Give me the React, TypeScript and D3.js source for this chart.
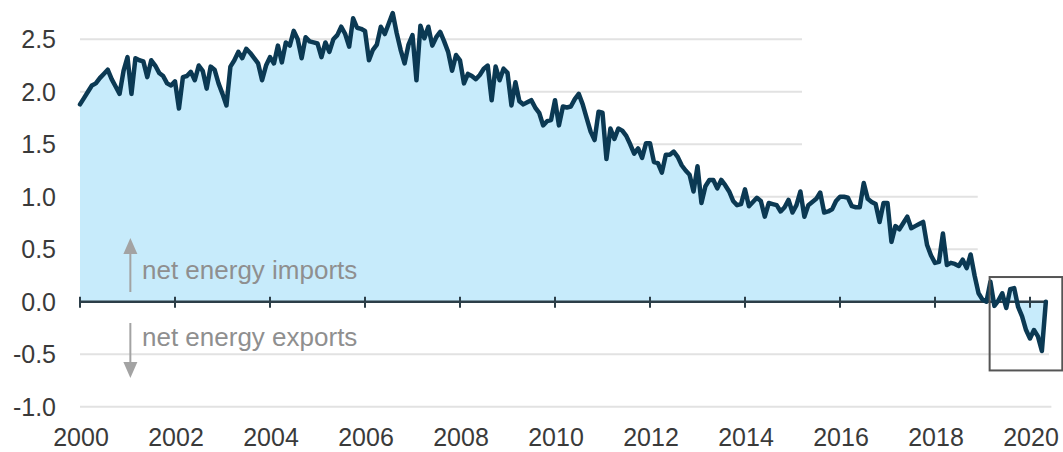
import React from 'react';
import * as d3 from 'd3';

// Monthly net energy imports, Jan 2000 – May 2020
const startYear = 2000;
const v2000 = [1.88, 1.94, 2.0, 2.06, 2.08, 2.13, 2.17, 2.21, 2.12, 2.05, 1.98, 2.2];
const v2001 = [2.33, 1.98, 2.32, 2.3, 2.29, 2.14, 2.3, 2.25, 2.18, 2.15, 2.08, 2.06];
const v2002 = [2.1, 1.84, 2.14, 2.15, 2.19, 2.11, 2.25, 2.2, 2.03, 2.24, 2.21, 2.08];
const v2003 = [1.98, 1.87, 2.24, 2.3, 2.38, 2.32, 2.41, 2.37, 2.32, 2.27, 2.11, 2.25];
const v2004 = [2.33, 2.27, 2.44, 2.28, 2.47, 2.44, 2.58, 2.5, 2.32, 2.52, 2.48, 2.47];
const v2005 = [2.46, 2.33, 2.47, 2.38, 2.5, 2.54, 2.62, 2.55, 2.43, 2.7, 2.61, 2.6];
const v2006 = [2.58, 2.3, 2.4, 2.45, 2.62, 2.55, 2.65, 2.75, 2.56, 2.4, 2.27, 2.45];
const v2007 = [2.54, 2.11, 2.63, 2.51, 2.62, 2.44, 2.52, 2.57, 2.48, 2.38, 2.2, 2.35];
const v2008 = [2.3, 2.08, 2.17, 2.15, 2.12, 2.16, 2.22, 2.25, 1.92, 2.24, 2.11, 2.22];
const v2009 = [2.18, 1.87, 2.09, 1.91, 1.88, 1.9, 1.92, 1.85, 1.8, 1.68, 1.72, 1.73];
const v2010 = [1.92, 1.68, 1.86, 1.85, 1.86, 1.93, 1.98, 1.88, 1.75, 1.62, 1.54, 1.81];
const v2011 = [1.8, 1.36, 1.65, 1.55, 1.65, 1.63, 1.58, 1.5, 1.41, 1.46, 1.37, 1.51];
const v2012 = [1.51, 1.33, 1.32, 1.23, 1.4, 1.4, 1.43, 1.38, 1.3, 1.25, 1.21, 1.05];
const v2013 = [1.29, 0.94, 1.1, 1.16, 1.16, 1.08, 1.16, 1.11, 1.05, 0.96, 0.92, 0.93];
const v2014 = [1.07, 0.91, 0.95, 0.99, 0.96, 0.81, 0.94, 0.93, 0.92, 0.86, 0.9, 0.97];
const v2015 = [0.85, 0.92, 1.05, 0.81, 0.92, 0.95, 0.98, 1.04, 0.85, 0.86, 0.88, 0.96];
const v2016 = [1.0, 1.0, 0.99, 0.91, 0.9, 0.9, 1.13, 0.98, 0.95, 0.93, 0.76, 0.94];
const v2017 = [0.94, 0.57, 0.72, 0.69, 0.75, 0.81, 0.7, 0.72, 0.74, 0.76, 0.54, 0.44];
const v2018 = [0.37, 0.38, 0.65, 0.35, 0.37, 0.36, 0.34, 0.4, 0.32, 0.45, 0.25, 0.08];
const v2019 = [0.02, 0.0, 0.19, -0.04, 0.01, 0.08, -0.06, 0.12, 0.13, -0.05, -0.14, -0.27];
const v2020 = [-0.35, -0.27, -0.33, -0.47, 0.0];

const netImports = [
  ...v2000, ...v2001, ...v2002, ...v2003, ...v2004, ...v2005, ...v2006,
  ...v2007, ...v2008, ...v2009, ...v2010, ...v2011, ...v2012, ...v2013,
  ...v2014, ...v2015, ...v2016, ...v2017, ...v2018, ...v2019, ...v2020,
];

const yTicks = [-1.0, -0.5, 0.0, 0.5, 1.0, 1.5, 2.0, 2.5];
const xTickYears = [2000, 2002, 2004, 2006, 2008, 2010, 2012, 2014, 2016, 2018, 2020];
const importsLabel = 'net energy imports';
const exportsLabel = 'net energy exports';

// gridline end (in years) per tick value, as seen in the reference
const gridEnd: Record<string, number> = {
  '2.5': 2015.2, '2': 2015.2, '1.5': 2015.2, '1': 2018.9, '0.5': 2018.9,
  '-0.5': 2020.4, '-1': 2020.45,
};

const FONT = '"Liberation Sans", Arial, Helvetica, sans-serif';

export default function App() {
  const W = 1063;
  const H = 452;
  const x = d3.scaleLinear().domain([2000, 2020]).range([80, 1030]);
  const y = d3.scaleLinear().domain([0, 2.5]).range([301.7, 39.3]);

  const data = netImports.map((v, i) => ({ t: startYear + i / 12, v }));
  const line = d3
    .line<{ t: number; v: number }>()
    .x((d) => x(d.t))
    .y((d) => y(d.v));
  const area = d3
    .area<{ t: number; v: number }>()
    .x((d) => x(d.t))
    .y0(y(0))
    .y1((d) => y(d.v));

  const y0 = y(0);
  const lastT = data[data.length - 1].t;

  // highlight box (data coords)
  const bx0 = x(2019.15);
  const bx1 = x(2020.68);
  const by0 = y(0.235);
  const by1 = y(-0.655);

  const arrowX = x(2001.06);
  const grey = '#a3a3a3';

  return (
    <svg
      width={W}
      height={H}
      style={{ position: 'absolute', left: 0, top: 0, background: '#fff' }}
      fontFamily={FONT}
    >
      {/* gridlines */}
      {yTicks
        .filter((t) => t !== 0)
        .map((t) => (
          <line
            key={'g' + t}
            x1={x(2000)}
            x2={x(gridEnd[String(t)])}
            y1={y(t)}
            y2={y(t)}
            stroke="#e2e2e2"
            strokeWidth={2}
          />
        ))}

      {/* area */}
      <path d={area(data) || ''} fill="#c7ebfb" stroke="none" />

      {/* zero axis */}
      <line x1={x(2000)} x2={x(lastT)} y1={y0} y2={y0} stroke="#2c3e48" strokeWidth={2.5} />
      {xTickYears.map((yr) => (
        <line key={'t' + yr} x1={x(yr)} x2={x(yr)} y1={y0 - 5} y2={y0 + 6} stroke="#2c3e48" strokeWidth={2} />
      ))}

      {/* data line */}
      <path
        d={line(data) || ''}
        fill="none"
        stroke="#0b3953"
        strokeWidth={4.5}
        strokeLinejoin="round"
        strokeLinecap="round"
      />

      {/* highlight box */}
      <rect x={bx0} y={by0} width={bx1 - bx0} height={by1 - by0} fill="none" stroke="#555" strokeWidth={2} />

      {/* y tick labels */}
      {yTicks.map((t) => (
        <text key={'yl' + t} x={56} y={y(t)} dy="0.36em" textAnchor="end" fontSize={25} fill="#3a3a3a">
          {t.toFixed(1)}
        </text>
      ))}

      {/* x tick labels */}
      {xTickYears.map((yr) => (
        <text key={'xl' + yr} x={x(yr) + 1} y={446} textAnchor="middle" fontSize={25} fill="#3a3a3a">
          {yr}
        </text>
      ))}

      {/* annotations */}
      <line x1={arrowX} x2={arrowX} y1={292} y2={250} stroke={grey} strokeWidth={2} />
      <path d={`M${arrowX},238 L${arrowX - 7},254 L${arrowX + 7},254 Z`} fill={grey} />
      <text x={142} y={279} fontSize={26} fill="#8f8f8f">
        {importsLabel}
      </text>

      <line x1={arrowX} x2={arrowX} y1={323} y2={366} stroke={grey} strokeWidth={2} />
      <path d={`M${arrowX},378 L${arrowX - 7},362 L${arrowX + 7},362 Z`} fill={grey} />
      <text x={142} y={346} fontSize={26} fill="#8f8f8f">
        {exportsLabel}
      </text>
    </svg>
  );
}
